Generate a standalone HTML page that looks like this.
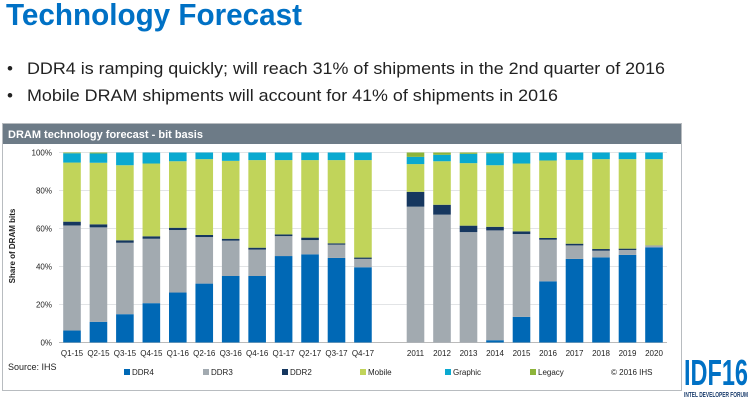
<!DOCTYPE html>
<html><head><meta charset="utf-8"><style>
html,body{margin:0;padding:0;background:#fff;width:750px;height:400px;overflow:hidden}
svg{display:block;font-family:"Liberation Sans",sans-serif}
</style></head><body>
<svg id="s" width="750" height="400" xmlns="http://www.w3.org/2000/svg">
<text x="6" y="25" font-size="31" font-weight="bold" fill="#0071c5" textLength="296" lengthAdjust="spacingAndGlyphs">Technology Forecast</text>
<text x="7" y="74" font-size="17" fill="#222">•</text>
<text x="27" y="74" font-size="17" fill="#222" textLength="638" lengthAdjust="spacingAndGlyphs">DDR4 is ramping quickly; will reach 31% of shipments in the 2nd quarter of 2016</text>
<text x="7" y="101" font-size="17" fill="#222">•</text>
<text x="27" y="101" font-size="17" fill="#222" textLength="531" lengthAdjust="spacingAndGlyphs">Mobile DRAM shipments will account for 41% of shipments in 2016</text>
<rect x="2.5" y="123.5" width="679" height="267" fill="#fff" stroke="#b8bcc0"/>
<rect x="3" y="124" width="678" height="20" fill="#6d7b87"/>
<text x="8" y="138" font-size="11" font-weight="bold" fill="#fff">DRAM technology forecast - bit basis</text>
<g id="grid"></g>
<g id="bars"></g>
<text transform="translate(15,246) rotate(-90)" font-size="8" font-weight="bold" fill="#222" text-anchor="middle">Share of DRAM bits</text>
<text x="8" y="370" font-size="9" fill="#222">Source: IHS</text>
<g font-size="8" fill="#222" id="leg"></g>
<text x="684" y="385" font-size="36" font-weight="bold" fill="#0071c5" textLength="64" lengthAdjust="spacingAndGlyphs">IDF16</text>
<text x="684" y="397" font-size="7" font-weight="bold" fill="#1d3f6e" textLength="64" lengthAdjust="spacingAndGlyphs">INTEL DEVELOPER FORUM</text>
</svg>
<script>
var NS="http://www.w3.org/2000/svg";
function el(p,t,a,txt){var e=document.createElementNS(NS,t);for(var k in a)e.setAttribute(k,a[k]);if(txt)e.textContent=txt;document.getElementById(p).appendChild(e);return e;}
var y0=342.5,sc=1.9;
for(var i=0;i<=5;i++){var y=y0-i*20*sc;
el("grid","line",{x1:59,x2:667,y1:y,y2:y,stroke:"#e2e4e6","stroke-width":1});
el("grid","text",{x:52,y:y+3,"font-size":8,"text-anchor":"end",fill:"#222"},(i*20)+"%");}
el("grid","line",{x1:59,x2:667,y1:y0,y2:y0,stroke:"#bbb","stroke-width":1});
var cols=["#0068b5","#a2aab0","#16375f","#c1d45a","#0aa9d0","#8db43a"];
var q=[["Q1-15",6.3,61.6,63.6,94.7,99.6],["Q2-15",10.9,60.6,62.2,94.6,99.5],["Q3-15",14.9,52.5,53.8,93.3,100],["Q4-15",20.7,54.6,55.9,94.2,100],["Q1-16",26.3,59.2,60.4,95.4,100],["Q2-16",31,55.5,56.6,96.5,100],["Q3-16",35,53.6,54.6,95.6,100],["Q4-16",35,48.9,49.9,96,100],["Q1-17",45.5,56,56.9,96,100],["Q2-17",46.4,53.9,55.2,96,100],["Q3-17",44.5,51.5,52.2,96,100],["Q4-17",39.6,44,44.7,96,100]];
var a=[["2011",0,71.5,79.3,93.9,97.7],["2012",0,67.3,72.5,95.4,98.8],["2013",0,58.1,61.5,94.4,99.3],["2014",1.2,59,60.9,93.3,99.6],["2015",13.5,57.1,58.5,94.2,100],["2016",32.2,54.1,55,95.8,100],["2017",44,51.1,52,96.1,100],["2018",44.8,48.3,49.2,96.5,100],["2019",46.1,48.7,49.4,96.5,100],["2020",50.1,51,51.1,96.5,100]];
function bar(x,d){var prev=0;var v=[d[1],d[2],d[3],d[4],d[5],100];
for(var j=0;j<6;j++){var h=(v[j]-prev)*sc;if(h>0)el("bars","rect",{x:x,y:y0-v[j]*sc,width:17.6,height:h,fill:cols[j]});prev=v[j];}
el("bars","text",{x:x+8.8,y:356,"font-size":8,"text-anchor":"middle",fill:"#222"},d[0]);}
q.forEach(function(d,i){bar(63.2+i*26.45,d);});
a.forEach(function(d,i){bar(406.7+i*26.5,d);});
var L=[["DDR4",124],["DDR3",203],["DDR2",282],["Mobile",360],["Graphic",445],["Legacy",530],["© 2016 IHS",611]];
L.forEach(function(l,i){if(i<6)el("leg","rect",{x:l[1],y:369,width:6,height:6,fill:cols[i]});el("leg","text",{x:l[1]+(i<6?8:0),y:375},l[0]);});
</script>
</body></html>
